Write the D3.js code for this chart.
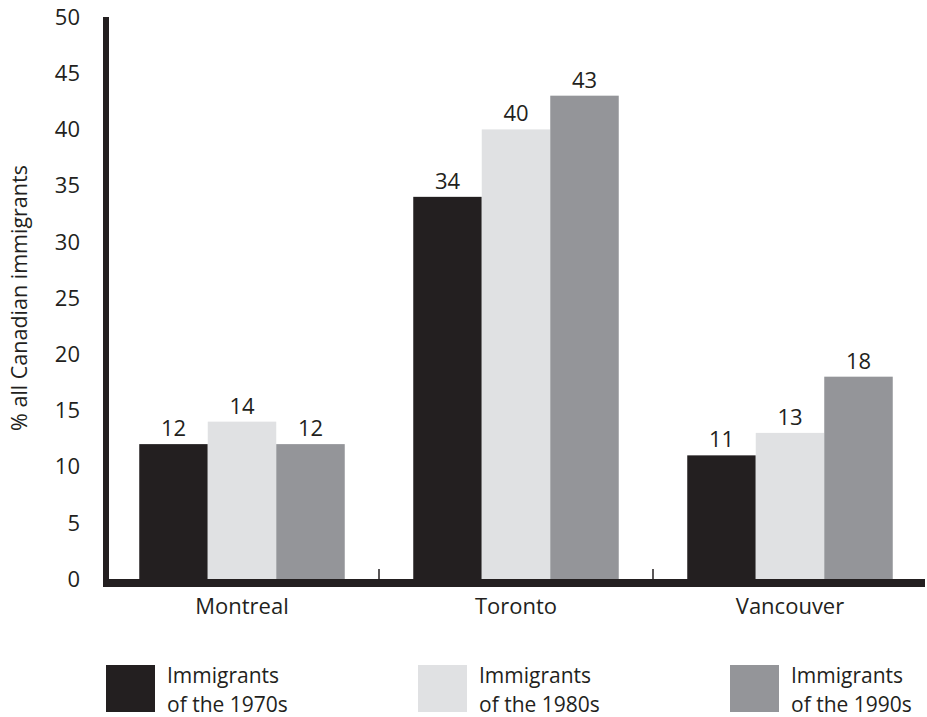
<!DOCTYPE html>
<html>
<head>
<meta charset="utf-8">
<script src="https://cdn.jsdelivr.net/npm/d3@7"></script>
<style>
  body { margin: 0; background: #fff; }
  svg { display: block; }
  text { font-family: "Open Sans", "Noto Sans", sans-serif; fill: #231f20; }
</style>
</head>
<body>
<svg></svg>
<script>
const cities = ['Montreal', 'Toronto', 'Vancouver'];
const decades = ['1970s', '1980s', '1990s'];
const values1970s = [12, 34, 11];
const values1980s = [14, 40, 13];
const values1990s = [12, 43, 18];
const yTicks = [0, 5, 10, 15, 20, 25, 30, 35, 40, 45, 50];
const colors = ['#231f20', '#e0e1e3', '#949599'];

const seriesValues = [values1970s, values1980s, values1990s];
const rows = cities.map((c, i) => ({
  city: c,
  vals: decades.map((d, j) => ({ decade: d, value: seriesValues[j][i], idx: j }))
}));

const width = 927, height = 717;
const svg = d3.select('svg').attr('width', width).attr('height', height);

const y = d3.scaleLinear().domain([0, 50]).range([579, 17]);

const x0 = d3.scaleBand()
  .domain(cities)
  .range([105, 927])
  .paddingInner(0.25)
  .paddingOuter(0.125);

const x1 = d3.scaleBand()
  .domain(decades)
  .range([0, x0.bandwidth()]);

// y tick labels
svg.append('g')
  .selectAll('text')
  .data(yTicks)
  .enter().append('text')
  .attr('x', 80)
  .attr('y', d => y(d))
  .attr('dy', '0.35em')
  .attr('text-anchor', 'end')
  .style('font-size', '22px')
  .text(d => d);

// y title
svg.append('text')
  .attr('transform', 'translate(27,' + (y(25)) + ') rotate(-90)')
  .attr('text-anchor', 'middle')
  .style('font-size', '21.5px')
  .text('% all Canadian immigrants');

// bars
let groups = svg.append('g')
  .selectAll('g')
  .data(rows)
  .enter().append('g')
  .attr('transform', d => 'translate(' + x0(d.city) + ',0)');

groups.selectAll('rect')
  .data(d => d.vals)
  .enter().append('rect')
  .attr('x', d => x1(d.decade))
  .attr('width', x1.bandwidth())
  .attr('y', d => y(d.value))
  .attr('height', d => y(0) - y(d.value))
  .style('fill', d => colors[d.idx]);

groups.selectAll('text')
  .data(d => d.vals)
  .enter().append('text')
  .attr('x', d => x1(d.decade) + x1.bandwidth() / 2)
  .attr('y', d => y(d.value) - 8)
  .attr('text-anchor', 'middle')
  .style('font-size', '22px')
  .text(d => d.value);

// axes lines
svg.append('rect')
  .attr('x', 103).attr('y', y(50))
  .attr('width', 6).attr('height', y(0) - y(50) + 8)
  .style('fill', '#231f20');

svg.append('rect')
  .attr('x', 103).attr('y', y(0))
  .attr('width', 822).attr('height', 8)
  .style('fill', '#231f20');

// category separator ticks
const step = x0.step();
svg.append('g')
  .selectAll('line')
  .data(cities.slice(1))
  .enter().append('line')
  .attr('x1', d => x0(d) - step * x0.paddingInner() / 2)
  .attr('x2', d => x0(d) - step * x0.paddingInner() / 2)
  .attr('y1', y(0) - 10)
  .attr('y2', y(0))
  .style('stroke', '#231f20')
  .style('stroke-width', 1.5);

// city labels
svg.append('g')
  .selectAll('text')
  .data(cities)
  .enter().append('text')
  .attr('x', d => x0(d) + x0.bandwidth() / 2)
  .attr('y', 614)
  .attr('text-anchor', 'middle')
  .style('font-size', '22px')
  .text(d => d);

// legend
const legendX = d3.scalePoint().domain(decades).range([106, 730]);
let legend = svg.append('g')
  .selectAll('g')
  .data(decades)
  .enter().append('g')
  .attr('transform', d => 'translate(' + legendX(d) + ',665)');

legend.append('rect')
  .attr('width', 49)
  .attr('height', 47)
  .style('fill', (d, i) => colors[i]);

legend.append('text')
  .attr('x', 61)
  .attr('y', 18)
  .style('font-size', '21px')
  .text('Immigrants');

legend.append('text')
  .attr('x', 61)
  .attr('y', 46.7)
  .style('font-size', '21px')
  .text(d => 'of the ' + d);
</script>
</body>
</html>
